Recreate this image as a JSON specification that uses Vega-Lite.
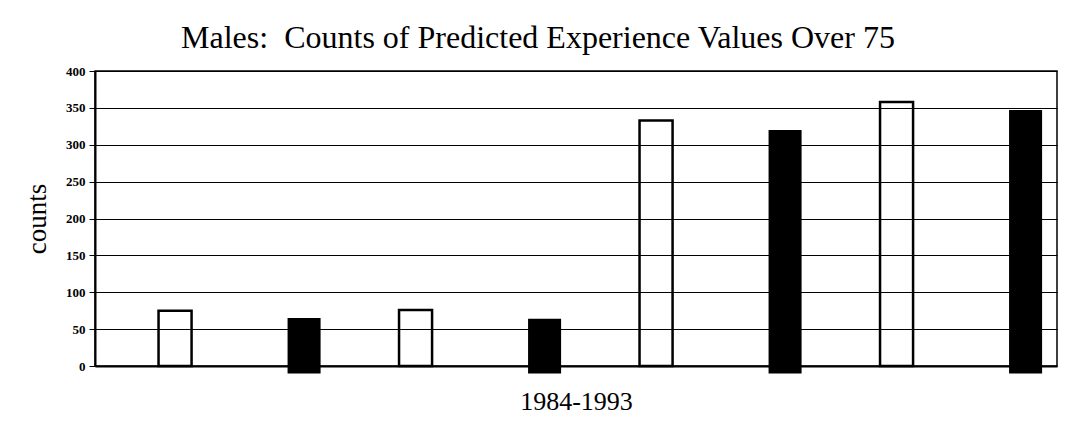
{
  "$schema": "https://vega.github.io/schema/vega-lite/v6.json",
  "width": 962,
  "height": 295,
  "autosize": {"type": "none"},
  "padding": {"left": 95, "top": 71, "right": 20, "bottom": 72},
  "background": "white",
  "title": {
    "text": "Males:\u00a0 Counts of Predicted Experience Values Over 75",
    "font": "Liberation Serif",
    "fontSize": 32,
    "fontWeight": "normal",
    "color": "black",
    "anchor": "middle",
    "dx": -38,
    "offset": -15,
    "baseline": "alphabetic"
  },
  "data": {
    "values": [
      {"group": "1", "series": "open", "count": 75},
      {"group": "1", "series": "filled", "count": 65},
      {"group": "2", "series": "open", "count": 76},
      {"group": "2", "series": "filled", "count": 64},
      {"group": "3", "series": "open", "count": 333},
      {"group": "3", "series": "filled", "count": 320},
      {"group": "4", "series": "open", "count": 358},
      {"group": "4", "series": "filled", "count": 347}
    ]
  },
  "encoding": {
    "x": {
      "field": "group",
      "type": "nominal",
      "scale": {"paddingInner": 0, "paddingOuter": 0},
      "axis": {
        "title": "1984-1993",
        "labels": false,
        "ticks": false,
        "grid": false,
        "domain": true,
        "domainColor": "black",
        "domainWidth": 2,
        "titleFont": "Liberation Serif",
        "titleFontSize": 26,
        "titleFontWeight": "normal",
        "titleColor": "black",
        "titlePadding": 22
      }
    },
    "xOffset": {
      "field": "series",
      "type": "nominal",
      "scale": {"domain": ["open", "filled"], "paddingInner": 0.744, "paddingOuter": 0.304, "align": 0.81}
    },
    "y": {
      "field": "count",
      "type": "quantitative",
      "scale": {"domain": [0, 400]},
      "axis": {
        "title": "counts",
        "values": [0, 50, 100, 150, 200, 250, 300, 350, 400],
        "titleFont": "Liberation Serif",
        "titleFontSize": 27,
        "titleFontWeight": "normal",
        "titleColor": "black",
        "titlePadding": 14,
        "labelFont": "Liberation Serif",
        "labelFontSize": 13,
        "labelFontWeight": "bold",
        "labelColor": "black",
        "labelPadding": 4,
        "tickColor": "black",
        "tickSize": 6,
        "tickWidth": 1,
        "domainColor": "black",
        "domainWidth": 2,
        "gridColor": "black",
        "gridWidth": 1,
        "gridOpacity": 1
      }
    }
  },
  "layer": [
    {
      "transform": [{"filter": "datum.series === 'open'"}],
      "mark": {"type": "bar", "fill": "transparent", "stroke": "black", "strokeWidth": 2.5}
    },
    {
      "transform": [{"filter": "datum.series === 'filled'"}],
      "mark": {"type": "bar", "fill": "black"},
      "encoding": {"y2": {"datum": -10}}
    }
  ],
  "config": {"view": {"stroke": "black", "strokeWidth": 1.5}}
}
